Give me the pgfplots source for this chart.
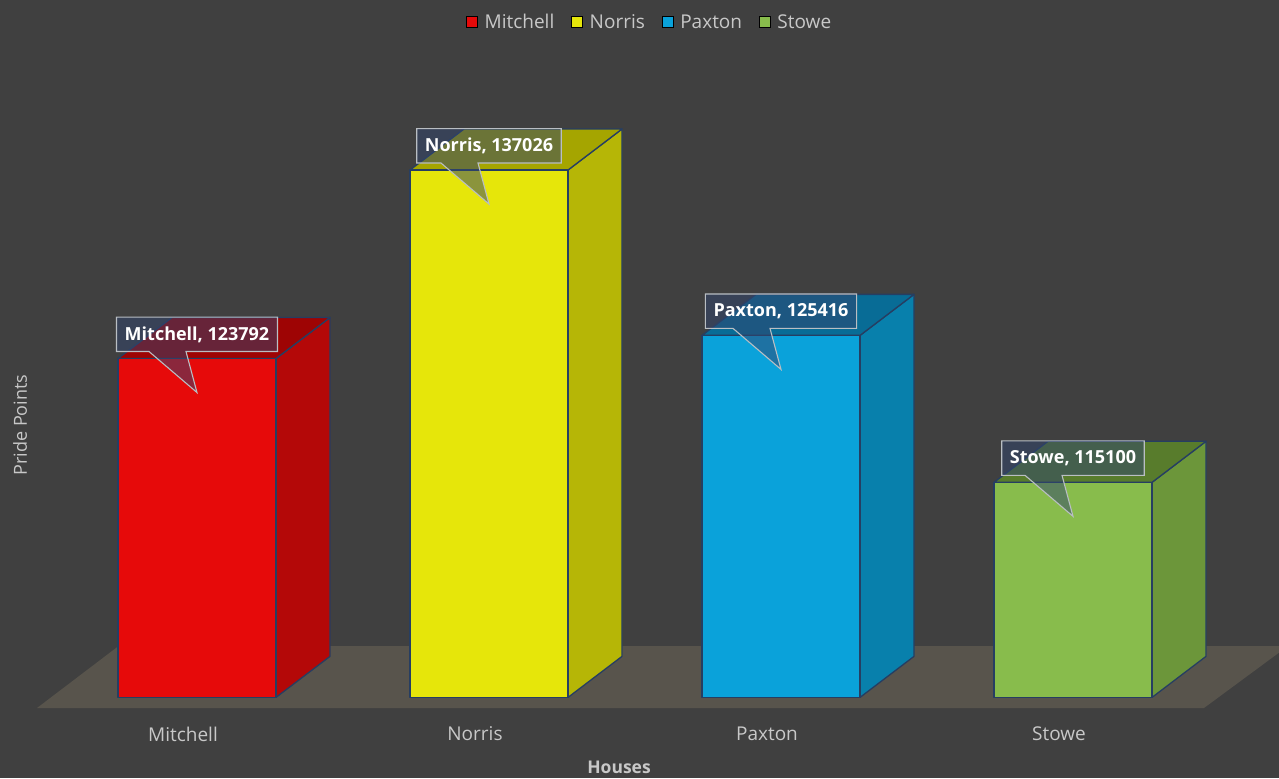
\documentclass[border=0pt]{standalone}
\usepackage{pgfplots}
\pgfplotsset{compat=1.18}
\usepackage{fontspec}
\setmainfont{Open Sans}
\usetikzlibrary{calc}
\definecolor{bg}{RGB}{64,64,64}
\definecolor{floorc}{RGB}{88,84,76}
\definecolor{edge}{RGB}{38,62,98}
\definecolor{lbl}{RGB}{200,200,200}
\definecolor{mitF}{RGB}{230,10,10}\definecolor{mitS}{RGB}{180,8,8}\definecolor{mitT}{RGB}{158,4,4}
\definecolor{norF}{RGB}{230,230,10}\definecolor{norS}{RGB}{182,182,6}\definecolor{norT}{RGB}{165,165,0}
\definecolor{paxF}{RGB}{10,162,218}\definecolor{paxS}{RGB}{8,128,172}\definecolor{paxT}{RGB}{8,108,150}
\definecolor{stoF}{RGB}{136,188,76}\definecolor{stoS}{RGB}{108,150,58}\definecolor{stoT}{RGB}{88,124,44}
\definecolor{cfill}{RGB}{50,68,110}
\definecolor{cline}{RGB}{185,190,195}
\newcommand\tickfont{\fontsize{19bp}{23bp}\selectfont}
\newcommand\calloutfont{\fontsize{18bp}{22bp}\selectfont\bfseries}

% #1 category index, #2 value, #3 front, #4 side, #5 top colour
\newcommand\housebar[5]{%
  \pgfmathsetmacro\xl{#1-0.27055}%
  \pgfmathsetmacro\xr{#1+0.27055}%
  \pgfmathsetmacro\xrb{#1+0.27055+0.18493}%
  \pgfmathsetmacro\xlb{#1-0.27055+0.18493}%
  \edef\yb{\the\numexpr 100000+2880\relax}%
  \edef\yt{\the\numexpr #2+2880\relax}%
  \edef\doplot{%
    \noexpand\addplot[forget plot, fill=#4, draw=edge, line width=1.3bp, line join=round] coordinates {(\xr,100000) (\xrb,\yb) (\xrb,\yt) (\xr,#2)} -- cycle;
    \noexpand\addplot[forget plot, fill=#5, draw=edge, line width=1.3bp, line join=round] coordinates {(\xl,#2) (\xr,#2) (\xrb,\yt) (\xlb,\yt)} -- cycle;
    \noexpand\addplot[forget plot, fill=#3, draw=edge, line width=1.3bp, line join=round] coordinates {(\xl,100000) (\xr,100000) (\xr,#2) (\xl,#2)} -- cycle;
  }\doplot
  \coordinate (top#1) at (axis cs:#1,#2);
}

\newcommand\callout[2]{%
  \node[anchor=south, font=\calloutfont, inner xsep=8bp, minimum height=34bp, text opacity=0] (box) at ($(#1)+(0,7bp)$) {#2};
  \filldraw[fill=cfill, fill opacity=0.5, draw=cline, line width=1.1bp]
    (box.south west) -- (box.north west) -- (box.north east) -- (box.south east)
    -- ($(#1)+(-11bp,7bp)$) -- ($(#1)+(0,-34bp)$) -- ($(#1)+(-48bp,7bp)$) -- cycle;
  \node[anchor=south, font=\calloutfont, inner xsep=8bp, minimum height=34bp, text=white] at ($(#1)+(0,7bp)$) {#2};
}

\begin{document}
\begin{tikzpicture}
\begin{axis}[
  scale only axis, width=1279bp, height=778bp,
  xmin=-0.67466, xmax=3.70548, ymin=94341, ymax=148964,
  axis x line=bottom, axis y line=none,
  axis line style={draw=none,-},
  xtick={0,1,2,3}, xticklabels={Mitchell,Norris,Paxton,Stowe},
  major tick length=0pt, ytick=\empty,
  xticklabel style={font=\tickfont, text=lbl, anchor=center, yshift=44bp, xshift=-14bp},
  axis background/.style={fill=bg},
  clip mode=individual,
  legend image code/.code={\fill[#1] (0bp,-5bp) rectangle (11bp,6bp); \path (16bp,0bp);},
  legend style={at={(0.508,0.9717)}, anchor=center, legend columns=4, draw=none, fill=none,
    font=\tickfont, text=lbl, /tikz/every even column/.append style={column sep=15bp}},
]
\addplot[forget plot, fill=floorc, draw=none] coordinates {(-0.5479,99256) (3.4486,99256) (3.7363,103608) (-0.2685,103608)} -- cycle;

\housebar{0}{123792}{mitF}{mitS}{mitT}
\housebar{1}{137026}{norF}{norS}{norT}
\housebar{2}{125416}{paxF}{paxS}{paxT}
\housebar{3}{115100}{stoF}{stoS}{stoT}

\addlegendimage{fill=mitF}\addlegendentry{Mitchell}
\addlegendimage{fill=norF}\addlegendentry{Norris}
\addlegendimage{fill=paxF}\addlegendentry{Paxton}
\addlegendimage{fill=stoF}\addlegendentry{Stowe}

\node[rotate=90, font=\fontsize{18bp}{22bp}\selectfont, text=lbl] at (rel axis cs:0.01564,0.4537) {Pride Points};
\node[font=\fontsize{17.5bp}{21bp}\selectfont\bfseries, text=lbl] at (rel axis cs:0.484,0.01414) {Houses};
\coordinate (BL) at (rel axis cs:0,0);
\coordinate (TR) at (rel axis cs:1,1);
\end{axis}
\callout{top0}{Mitchell, 123792}
\callout{top1}{Norris, 137026}
\callout{top2}{Paxton, 125416}
\callout{top3}{Stowe, 115100}
\pgfresetboundingbox
\useasboundingbox (BL) rectangle (TR);
\end{tikzpicture}
\end{document}
